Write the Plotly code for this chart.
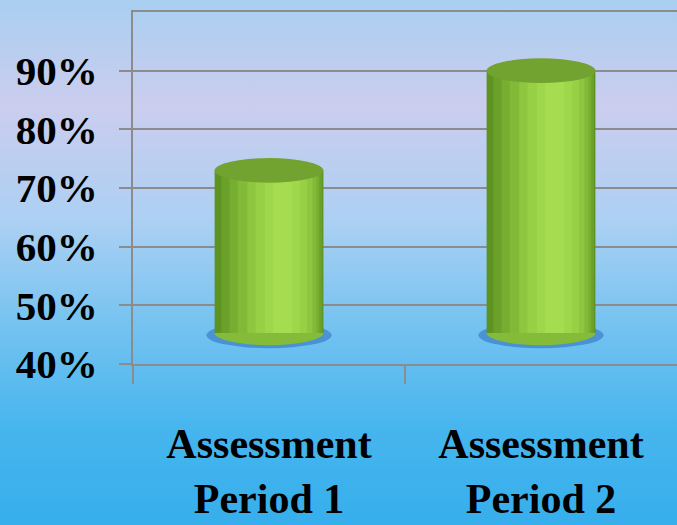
import base64

import plotly.graph_objects as go

# Data
CATEGORIES = ["Assessment<br>Period 1", "Assessment<br>Period 2"]
SCORES = [73, 90]
TICK_VALS = [40, 50, 60, 70, 80, 90]
TICK_TEXT = ["40%", "50%", "60%", "70%", "80%", "90%"]

# 3D look: cylinders stand on a floor drawn a little above the axis line
FLOOR = 45.3
CAP = 2.1          # half-height of the cylinder caps, in axis units
HALF_W = 0.20      # half-width of a cylinder, in category units

FONT = "Liberation Serif, Times New Roman, serif"
GRID = "#8c8c8c"

# background gradient (light blue -> lavender -> bright blue)
stops = [(0, "#a9cff1"), (0.2, "#cbcdee"), (0.42, "#acd0f3"),
         (0.63, "#72c2f0"), (0.82, "#46b5ee"), (1, "#36afec")]
svg = ('<svg xmlns="http://www.w3.org/2000/svg" width="677" height="525" '
       'preserveAspectRatio="none"><defs><linearGradient id="g" x1="0" y1="0" '
       'x2="0" y2="1">'
       + "".join(f'<stop offset="{o}" stop-color="{c}"/>' for o, c in stops)
       + '</linearGradient></defs><rect width="677" height="525" fill="url(#g)"/></svg>')
bg_src = "data:image/svg+xml;base64," + base64.b64encode(svg.encode()).decode()

fig = go.Figure()

# cylinder body: overlay bars going from the dark left edge to the highlight
layers = [
    (0.40, -0.200, "#5e9322"),
    (0.37, -0.175, "#6aa12a"),
    (0.33, -0.145, "#76ae31"),
    (0.29, -0.115, "#82ba38"),
    (0.24, -0.080, "#8ec63f"),
    (0.19, -0.050, "#97cf45"),
    (0.13, -0.015, "#9fd74b"),
    (0.07, 0.015, "#a5dc50"),
]
heights = [v - FLOOR for v in SCORES]
for width, offset, color in layers:
    fig.add_trace(go.Bar(
        x=CATEGORIES, y=heights, base=FLOOR,
        width=width, offset=offset,
        marker=dict(color=color, line=dict(width=0)),
        showlegend=False, hoverinfo="skip",
    ))

# shadows, rounded bottoms and top caps
for i, v in enumerate(SCORES):
    fig.add_shape(type="circle", xref="x", yref="y", layer="between",
                  x0=i - HALF_W - 0.03, x1=i + HALF_W + 0.03,
                  y0=FLOOR - CAP - 0.5, y1=FLOOR + CAP - 0.3,
                  fillcolor="rgba(35,100,185,0.5)", line_width=0)
    fig.add_shape(type="circle", xref="x", yref="y", layer="between",
                  x0=i - HALF_W, x1=i + HALF_W,
                  y0=FLOOR - CAP, y1=FLOOR + CAP,
                  fillcolor="#84bc3a", line_width=0)
    fig.add_shape(type="circle", xref="x", yref="y", layer="above",
                  x0=i - HALF_W, x1=i + HALF_W,
                  y0=v - CAP, y1=v + CAP,
                  fillcolor="#72a22f", line_width=0)

fig.update_layout(
    width=677, height=525,
    margin=dict(l=0, r=0, t=0, b=0),
    paper_bgcolor="#8ccaf0",
    plot_bgcolor="rgba(0,0,0,0)",
    barmode="overlay",
    images=[dict(source=bg_src, xref="paper", yref="paper", x=0, y=1,
                 sizex=1, sizey=1, xanchor="left", yanchor="top",
                 sizing="stretch", layer="below")],
    xaxis=dict(
        domain=[0.1965, 1],
        automargin=False,
        showgrid=False,
        showline=True, linecolor=GRID, linewidth=2, mirror=True,
        ticks="outside", tickson="boundaries", ticklen=18,
        tickcolor=GRID, tickwidth=2,
        tickfont=dict(family=FONT, size=42, color="black", weight=700),
        ticklabelstandoff=42,
    ),
    yaxis=dict(
        domain=[0.3067, 0.9771],
        automargin=False,
        range=[40, 100],
        tickvals=TICK_VALS, ticktext=TICK_TEXT,
        showgrid=True, gridcolor=GRID, gridwidth=2,
        showline=True, linecolor=GRID, linewidth=2,
        ticks="outside", ticklen=12, tickcolor=GRID, tickwidth=2,
        tickfont=dict(family=FONT, size=41, color="black", weight=700),
        ticklabelstandoff=13,
        zeroline=False,
    ),
)

fig.write_html("out.html", config={"displayModeBar": False},
               post_script="document.body.style.margin = '0';")
